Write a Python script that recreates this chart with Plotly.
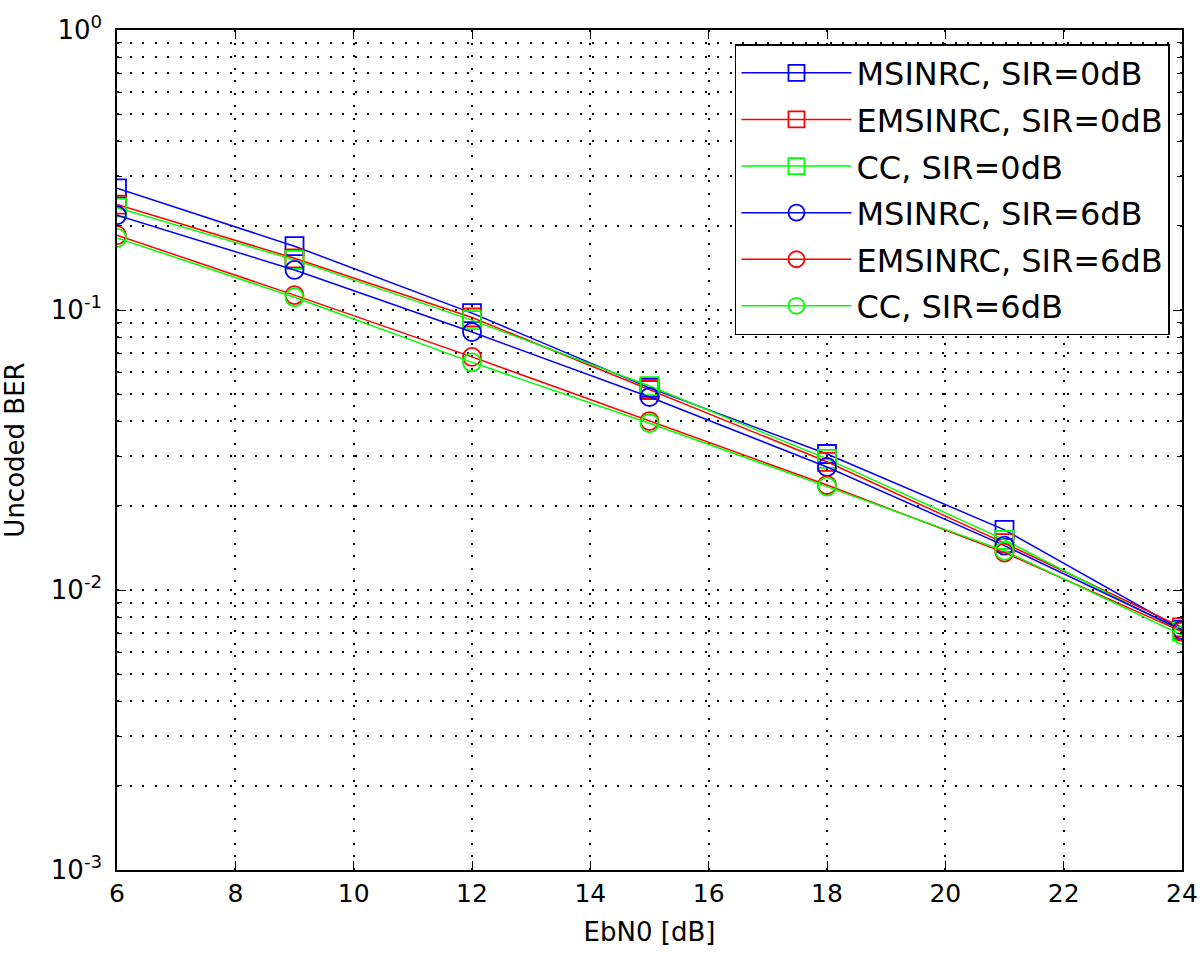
import plotly.graph_objects as go

ebn0 = [6, 9, 12, 15, 18, 21, 24]

msinrc_sir0 = [0.272, 0.169, 0.0975, 0.0527, 0.0306, 0.0164, 0.0072]
emsinrc_sir0 = [0.238, 0.153, 0.094, 0.0518, 0.0287, 0.0147, 0.00735]
cc_sir0 = [0.232, 0.151, 0.092, 0.0535, 0.0294, 0.0151, 0.0071]
msinrc_sir6 = [0.218, 0.139, 0.0834, 0.0489, 0.0275, 0.0144, 0.0072]
emsinrc_sir6 = [0.185, 0.113, 0.068, 0.0401, 0.0237, 0.0136, 0.0071]
cc_sir6 = [0.181, 0.111, 0.065, 0.0394, 0.0234, 0.0138, 0.0069]

series = [
    ("MSINRC, SIR=0dB", msinrc_sir0, "#0000FF", "square-open"),
    ("EMSINRC, SIR=0dB", emsinrc_sir0, "#FF0000", "square-open"),
    ("CC, SIR=0dB", cc_sir0, "#00FF00", "square-open"),
    ("MSINRC, SIR=6dB", msinrc_sir6, "#0000FF", "circle-open"),
    ("EMSINRC, SIR=6dB", emsinrc_sir6, "#FF0000", "circle-open"),
    ("CC, SIR=6dB", cc_sir6, "#00FF00", "circle-open"),
]

fig = go.Figure()
for i, (name, vals, col, sym) in enumerate(series):
    fig.add_trace(go.Scatter(
        x=ebn0, y=vals, name=name, mode="lines+markers",
        legendgroup=f"g{i}",
        line=dict(color=col, width=1.5),
        marker=dict(symbol=sym, size=18, color=col, line=dict(width=1.8, color=col)),
    ))

y_major = [1e-3, 1e-2, 1e-1, 1]
y_text = ["10<sup>-3</sup>", "10<sup>-2</sup>", "10<sup>-1</sup>", "10<sup>0</sup>"]
y_minor = [m * 10.0 ** e for e in (-3, -2, -1) for m in range(2, 10)]

DOT = "2px,10.5px"
FONT = "DejaVu Sans, Liberation Sans, sans-serif"

fig.update_layout(
    width=1200, height=960,
    paper_bgcolor="white", plot_bgcolor="white",
    margin=dict(l=117, r=18, t=30, b=90),
    font=dict(family=FONT, size=24, color="black"),
    showlegend=True,
    legend=dict(
        x=0.9887, y=0.9833, xanchor="right", yanchor="top",
        bgcolor="white", bordercolor="black", borderwidth=1.5,
        font=dict(family=FONT, size=32), traceorder="grouped", tracegroupgap=2,
        itemwidth=110,
    ),
    xaxis=dict(
        range=[6, 24], tickmode="array", tickvals=list(range(6, 25, 2)),
        showline=True, linecolor="black", linewidth=1.5, mirror="ticks",
        ticks="inside", ticklen=9, tickcolor="black",
        showgrid=True, gridcolor="black", gridwidth=1.5, griddash=DOT,
        zeroline=False, automargin=False,
        tickfont=dict(size=25),
        title=dict(text="EbN0 [dB]", standoff=16, font=dict(size=26)),
    ),
    yaxis=dict(
        type="log", range=[-3, 0],
        tickmode="array", tickvals=y_major, ticktext=y_text,
        showline=True, linecolor="black", linewidth=1.5, mirror="ticks",
        ticks="inside", ticklen=9, tickcolor="black",
        ticklabelstandoff=8,
        showgrid=True, gridcolor="black", gridwidth=1.5, griddash=DOT,
        minor=dict(tickmode="array", tickvals=y_minor, ticks="inside", ticklen=5,
                   tickcolor="black", showgrid=True, gridcolor="black",
                   gridwidth=1.5, griddash=DOT),
        zeroline=False, automargin=False,
        tickfont=dict(size=26),
        title=dict(text="Uncoded BER", standoff=31, font=dict(size=26)),
    ),
)

fig.write_html("out.html", config={"displayModeBar": False},
               post_script="document.body.style.margin='0';")
